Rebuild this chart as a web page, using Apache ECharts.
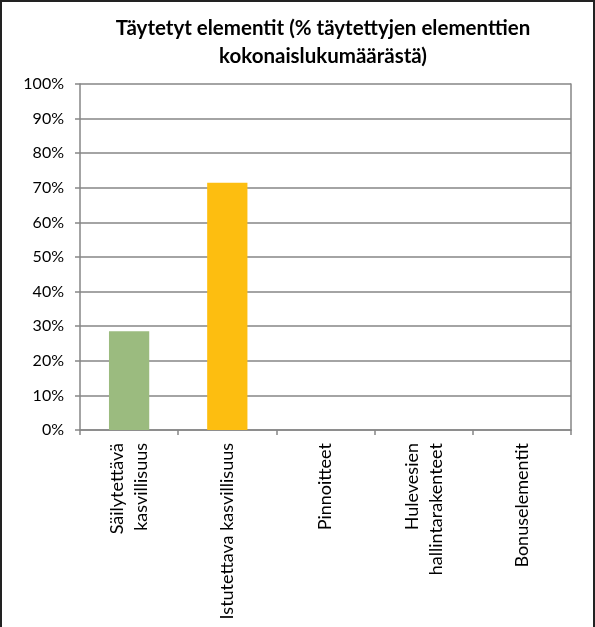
<!DOCTYPE html>
<html><head><meta charset="utf-8">
<script src="https://cdn.jsdelivr.net/npm/echarts@6/dist/echarts.min.js"></script>
<style>
html,body{margin:0;padding:0;background:#fff;}
#frame{position:absolute;left:0;top:0;width:591px;height:627px;border-left:2px solid #222;border-right:2px solid #222;border-top:2px solid #222;box-sizing:content-box;pointer-events:none;}
#chart{position:absolute;left:0;top:0;width:595px;height:627px;}
</style></head>
<body>
<div id="chart"></div>
<div id="frame"></div>
<script>
const titleText = 'Täytetyt elementit (% täytettyjen elementtien\nkokonaislukumäärästä)';
const categories = ['Säilytettävä\nkasvillisuus', 'Istutettava kasvillisuus', 'Pinnoitteet', 'Hulevesien\nhallintarakenteet', 'Bonuselementit'];
const values = [28.57, 71.43, 0, 0, 0];
const barColors = ['#9BBB7F', '#FDBE10', '#4F81BD', '#C0504D', '#8064A2'];
const yTicks = {min: 0, max: 100, interval: 10};

const font = 'Lato, "Open Sans", sans-serif';
const gray = '#868686';
const chart = echarts.init(document.getElementById('chart'), null, {renderer: 'canvas'});
chart.setOption({
  animation: false,
  backgroundColor: '#fff',
  graphic: [{
    type: 'text', left: null, x: 323, y: 14,
    style: {
      text: titleText, textAlign: 'center', textVerticalAlign: 'top',
      font: 'bold 20.5px ' + font, fill: '#000', lineHeight: 28
    }
  }],
  grid: {left: 80, right: 24, top: 84, bottom: 197},
  xAxis: {
    type: 'category', data: categories,
    axisLine: {lineStyle: {color: gray, width: 1.5}},
    axisTick: {show: true, length: 5, lineStyle: {color: gray, width: 1.5}},
    axisLabel: {rotate: 90, interval: 0, fontFamily: font, fontSize: 18, color: '#000', margin: 13, lineHeight: 24}
  },
  yAxis: [{
    type: 'value', min: yTicks.min, max: yTicks.max, interval: yTicks.interval,
    axisLine: {show: true, lineStyle: {color: gray, width: 1.5}},
    axisTick: {show: true, length: 5, lineStyle: {color: gray, width: 1.5}},
    splitLine: {lineStyle: {color: gray, width: 1.5}},
    axisLabel: {formatter: '{value}%', fontFamily: font, fontSize: 16, color: '#000', margin: 16}
  }, {
    type: 'value', position: 'right', min: yTicks.min, max: yTicks.max, interval: yTicks.interval,
    axisLine: {show: true, lineStyle: {color: gray, width: 1.5}},
    axisTick: {show: false}, axisLabel: {show: false}, splitLine: {show: false}
  }],
  series: [{
    type: 'bar', barWidth: '41%', yAxisIndex: 0,
    data: values.map((v, i) => ({value: v, itemStyle: {color: barColors[i]}}))
  }]
});
</script>
</body></html>
